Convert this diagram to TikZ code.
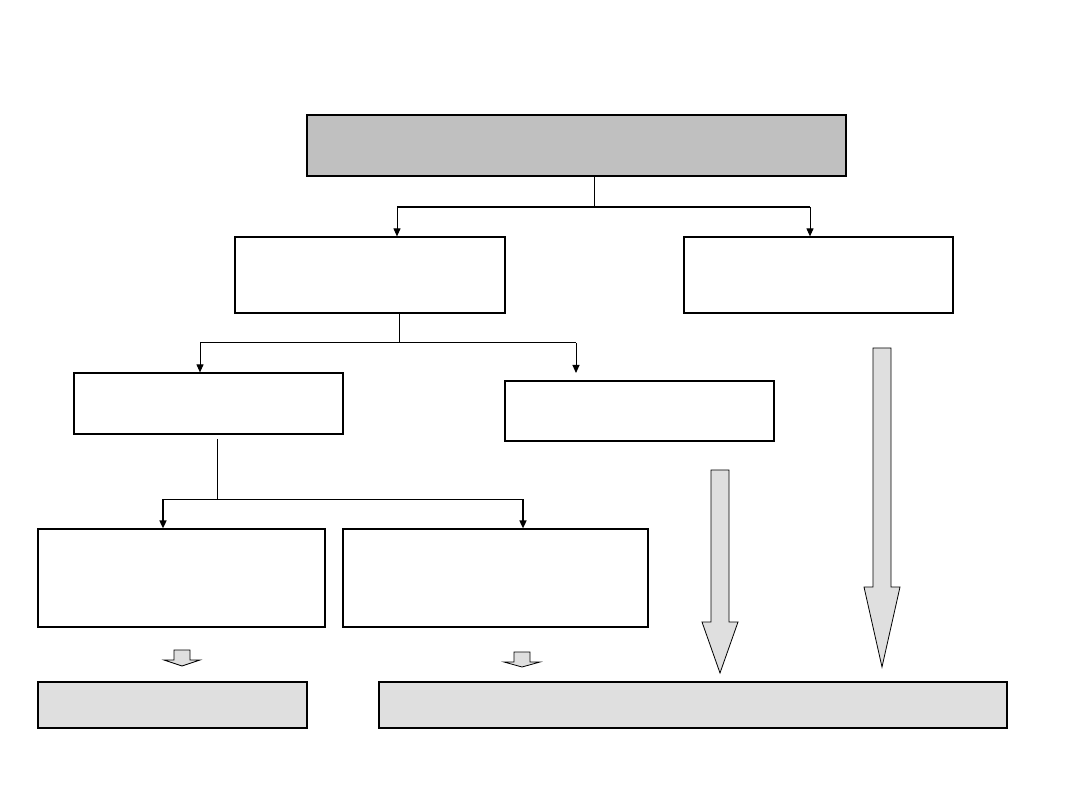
\documentclass[tikz,border=0pt]{standalone}
\usepackage{xcolor}
\usepackage{tikz}
\usetikzlibrary{arrows.meta, positioning, calc}

\definecolor{topgray}{HTML}{C0C0C0}
\definecolor{boxgray}{HTML}{DFDFDF}

% block arrow pointing down: x, top, neck, tip, half shaft, half head
\newcommand{\blockdown}[7]{%
  \path[blockarr] ({#2-#6},#3) -- ({#2+#6},#3) -- ({#2+#6},#4) -- ({#2+#7},#4)
    -- (#2,#5) coordinate (#1) -- ({#2-#7},#4) -- ({#2-#6},#4) -- cycle;}

\begin{document}
\begin{tikzpicture}[
    x=1pt, y=-1pt,
    box/.style={rectangle, draw, line width=1.2pt, inner sep=0pt, fill=white},
    link/.style={draw, line width=1pt},
    arr/.style={link, -{Triangle[length=8pt,width=7pt]}},
    blockarr/.style={draw, fill=boxgray, line width=0.8pt, line join=miter}
]
\useasboundingbox (0,0) rectangle (1080,810);

% boxes
\node[box, fill=topgray, minimum width=539pt, minimum height=61pt] (top) at (576.5,145.5) {};

\node[box, minimum width=270pt, minimum height=76pt] (left) at (370,275) {};
\node[box, minimum width=269pt, minimum height=76pt] (right) at (818.5,275) {};

\node[box, minimum width=269pt, minimum height=61pt] (subA) at (208.5,403.5) {};
\node[box, minimum width=269pt, minimum height=60pt] (subB) at (639.5,411) {};

\node[box, minimum width=287pt, minimum height=98pt] (caseA) at (181.5,578) {};
\node[box, minimum width=305pt, minimum height=98pt] (caseB) at (495.5,578) {};

\node[box, fill=boxgray, minimum width=269pt, minimum height=46pt] (endA) at (172.5,705) {};
\node[box, fill=boxgray, minimum width=628pt, minimum height=46pt] (endB) at (693,705) {};

% junctions
\coordinate (j1) at (594,207);
\coordinate (j1l) at (397,207);
\coordinate (j1r) at (810,207);
\coordinate (j2) at (399,343);
\coordinate (j2l) at (200,343);
\coordinate (j2r) at (576,343);
\coordinate (j2end) at (576,373);
\coordinate (j3top) at (217,439);
\coordinate (j3) at (217,499);
\coordinate (j3l) at (163,499);
\coordinate (j3r) at (523,499);

% connectors
\draw[link] (top.south -| j1) -- (j1);
\draw[link, line width=1.6pt] (j1l) -- (j1r);
\draw[arr] (j1l) -- (left.north -| j1l);
\draw[arr] (j1r) -- (right.north -| j1r);

\draw[link] (left.south -| j2) -- (j2);
\draw[link] (j2l) -- (j2r);
\draw[arr] (j2l) -- (subA.north -| j2l);
\draw[arr] (j2r) -- (j2end);

\draw[link] (j3top) -- (j3);
\draw[link] (j3l) -- (j3r);
\draw[arr, line width=1.6pt] (j3l) -- (caseA.north -| j3l);
\draw[arr, line width=1.6pt] (j3r) -- (caseB.north -| j3r);

% block arrows
\blockdown{tipA}{182}{650}{660}{666}{8}{18}
\blockdown{tipB}{522}{652}{662}{667}{8}{18}
\blockdown{tipC}{720}{470}{622}{673}{9}{18}
\blockdown{tipD}{882}{348}{587}{667}{9}{18}

\end{tikzpicture}
\end{document}
